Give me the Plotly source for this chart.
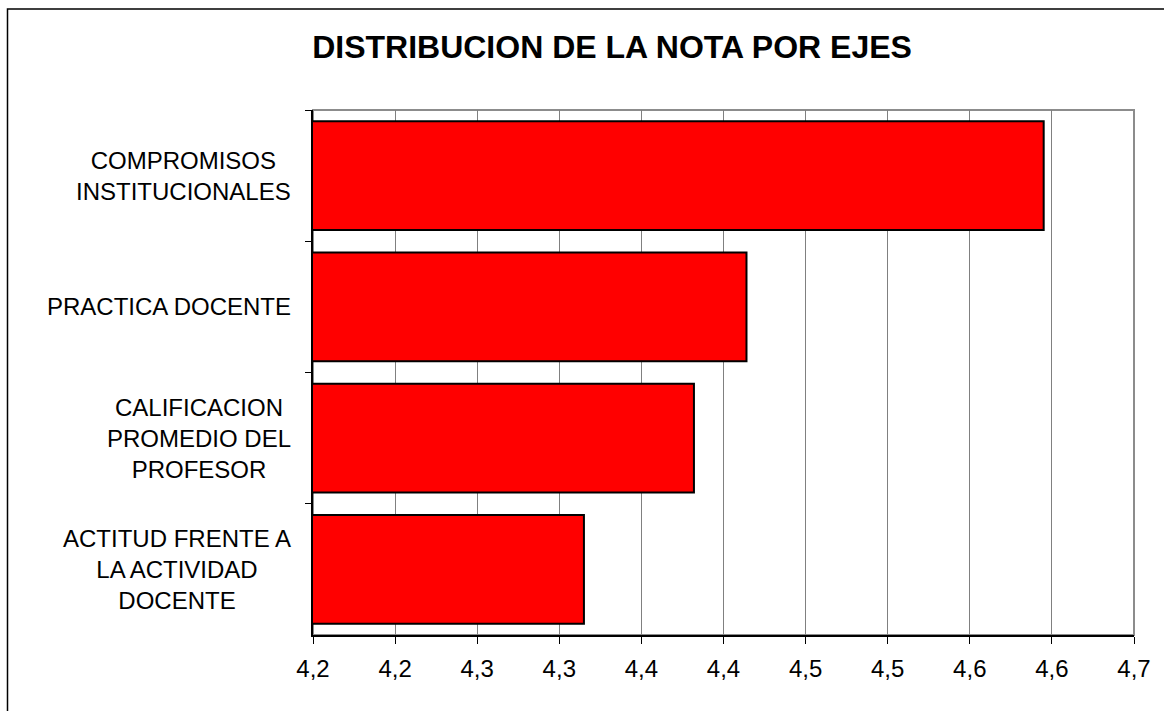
import plotly.graph_objects as go

# --- data ---
categories = [
    "COMPROMISOS<br>INSTITUCIONALES",
    "PRACTICA DOCENTE",
    "CALIFICACION<br>PROMEDIO DEL<br>PROFESOR",
    "ACTITUD FRENTE A<br>LA ACTIVIDAD<br>DOCENTE",
]
notas = [4.645, 4.464, 4.432, 4.365]

tick_values = [4.20, 4.25, 4.30, 4.35, 4.40, 4.45, 4.50, 4.55, 4.60, 4.65, 4.70]
tick_labels = ["4,2", "4,2", "4,3", "4,3", "4,4", "4,4", "4,5", "4,5", "4,6", "4,6", "4,7"]

W, H = 1164, 711
L, R, T, B = 313, 30, 110, 76
pw, ph = W - L - R, H - T - B


def px_x(x):
    return (x - L) / pw


def px_y(y):
    return (H - B - y) / ph


FONT = "Liberation Sans, Arial, sans-serif"

fig = go.Figure()

fig.add_trace(
    go.Bar(
        x=notas,
        y=categories,
        orientation="h",
        marker=dict(color="#FF0000", line=dict(color="black", width=2)),
        hoverinfo="x+y",
    )
)

# category labels, centred multi-line like the original
for cat in categories:
    fig.add_annotation(
        x=0, xref="paper", y=cat, yref="y",
        text=cat, showarrow=False,
        xanchor="right", xshift=-20, align="center",
        font=dict(family=FONT, size=24, color="black"),
    )

# plot-area frame (grey) and outer chart frame (black)
fig.add_shape(type="rect", xref="paper", yref="paper", x0=0, x1=1, y0=0, y1=1,
              line=dict(color="#8c8c8c", width=2), layer="below")
fig.add_shape(type="rect", xref="paper", yref="paper",
              x0=px_x(7.5), x1=px_x(1200), y0=px_y(760), y1=px_y(9),
              line=dict(color="black", width=1.5))

fig.update_layout(
    width=W, height=H,
    margin=dict(l=L, r=R, t=T, b=B),
    paper_bgcolor="white", plot_bgcolor="white",
    showlegend=False,
    bargap=0.17,
    title=dict(
        text="<b>DISTRIBUCION DE LA NOTA POR EJES</b>",
        x=612 / W, xanchor="center",
        y=1 - 47 / H, yanchor="middle",
        font=dict(family=FONT, size=32, color="black"),
    ),
)

fig.update_xaxes(
    range=[4.2, 4.7],
    tickvals=tick_values, ticktext=tick_labels,
    showgrid=True, gridcolor="#808080", gridwidth=1,
    showline=True, linecolor="black", linewidth=1.5,
    ticks="outside", ticklen=7, tickcolor="black",
    ticklabelstandoff=4,
    tickfont=dict(family=FONT, size=24, color="black"),
    zeroline=False,
)
fig.update_yaxes(
    categoryorder="array", categoryarray=categories, autorange="reversed",
    showticklabels=False,
    showline=True, linecolor="black", linewidth=1.5,
    ticks="outside", tickson="boundaries", ticklen=6, tickcolor="black",
    showgrid=False,
)

fig.write_html("out.html", config={"displayModeBar": False},
               post_script="document.body.style.margin='0';")
